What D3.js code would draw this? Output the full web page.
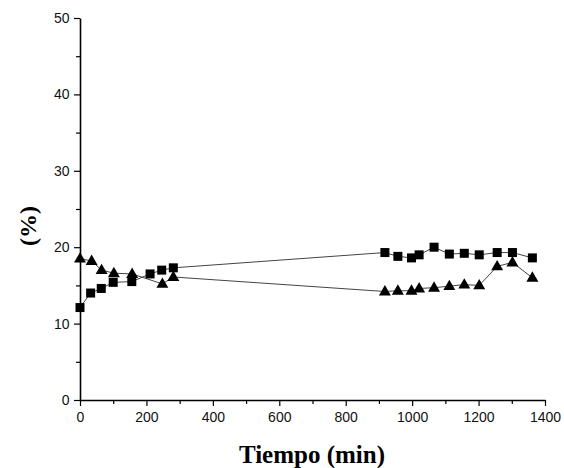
<!DOCTYPE html>
<html>
<head>
<meta charset="utf-8">
<title>Tiempo</title>
<style>
  body { margin: 0; background: #fff; }
  svg { display: block; }
</style>
</head>
<body>
<svg width="564" height="468"></svg>
<script src="https://cdn.jsdelivr.net/npm/d3@7"></script>
<script>
// datos
const tiempoCuadrados = [0, 32, 64, 100, 156, 211, 246, 281, 918, 957, 998, 1021, 1066, 1112, 1157, 1202, 1256, 1302, 1362]
const valCuadrados = [12.1, 14.0, 14.6, 15.4, 15.5, 16.5, 17.0, 17.3, 19.3, 18.8, 18.6, 19.0, 20.0, 19.1, 19.2, 19.0, 19.3, 19.3, 18.6]
const tiempoTriangulos = [0, 35, 65, 102, 157, 248, 281, 918, 957, 998, 1021, 1066, 1112, 1157, 1202, 1256, 1302, 1362]
const valTriangulos = [18.5, 18.2, 17.0, 16.6, 16.5, 15.2, 16.1, 14.2, 14.3, 14.3, 14.6, 14.7, 14.9, 15.1, 15.0, 17.5, 18.0, 16.0]
const xTicks = [0, 200, 400, 600, 800, 1000, 1200, 1400]
const yTicks = [0, 10, 20, 30, 40, 50]

const svg = d3.select("svg")
const x = d3.scaleLinear().domain([0, 1400]).range([80, 545])
const y = d3.scaleLinear().domain([0, 50]).range([400, 18])

const serie1 = tiempoCuadrados.map((t, i) => [t, valCuadrados[i]])
const serie2 = tiempoTriangulos.map((t, i) => [t, valTriangulos[i]])

const line = d3.line().x(d => x(d[0])).y(d => y(d[1]))

// líneas finas
svg.append("path").datum(serie1).attr("d", line)
  .attr("fill", "none").attr("stroke", "#444").attr("stroke-width", 1)
svg.append("path").datum(serie2).attr("d", line)
  .attr("fill", "none").attr("stroke", "#444").attr("stroke-width", 1)

// ejes
const gx = svg.append("g").attr("transform", "translate(0,400)")
gx.call(d3.axisBottom(x).tickValues(xTicks).tickFormat(d3.format("d")).tickSize(6).tickSizeOuter(0))
const gxMinor = svg.append("g").attr("transform", "translate(0,400)")
gxMinor.call(d3.axisBottom(x).tickValues(d3.range(100, 1400, 200)).tickSize(4).tickFormat("").tickSizeOuter(0))
gxMinor.select(".domain").remove()

const gy = svg.append("g").attr("transform", "translate(80,0)")
gy.call(d3.axisLeft(y).tickValues(yTicks).tickFormat(d3.format("d")).tickSize(6).tickSizeOuter(0))
const gyMinor = svg.append("g").attr("transform", "translate(80,0)")
gyMinor.call(d3.axisLeft(y).tickValues(d3.range(5, 50, 10)).tickSize(4).tickFormat("").tickSizeOuter(0))
gyMinor.select(".domain").remove()

svg.selectAll(".domain").attr("stroke", "#000").attr("stroke-width", 1.6)
svg.selectAll(".tick line").attr("stroke", "#000").attr("stroke-width", 1.2)
svg.selectAll(".tick text").attr("font-family", "Liberation Sans, Arial, sans-serif")
  .attr("font-size", 14).attr("fill", "#111")
gx.selectAll(".tick text").attr("dy", "0.95em")
gy.selectAll(".tick text").attr("dx", "-0.1em")

// marcadores
svg.append("g").selectAll("rect").data(serie1).join("rect")
  .attr("x", d => x(d[0]) - 4.5).attr("y", d => y(d[1]) - 4.5)
  .attr("width", 9).attr("height", 9).attr("fill", "#000")

const tri = d3.symbol().type(d3.symbolTriangle).size(62)
svg.append("g").selectAll("path").data(serie2).join("path")
  .attr("d", tri)
  .attr("transform", d => `translate(${x(d[0])},${y(d[1]) + 0.5})`)
  .attr("fill", "#000")

// títulos
svg.append("text").attr("x", 312).attr("y", 463)
  .attr("text-anchor", "middle")
  .attr("font-family", "Liberation Serif, Times New Roman, serif")
  .attr("font-weight", "bold").attr("font-size", 25)
  .text("Tiempo (min)")

svg.append("text")
  .attr("transform", "translate(36,226) rotate(-90)")
  .attr("text-anchor", "middle")
  .attr("font-family", "Liberation Serif, Times New Roman, serif")
  .attr("font-weight", "bold").attr("font-size", 24)
  .text("(%)")
</script>
</body>
</html>
